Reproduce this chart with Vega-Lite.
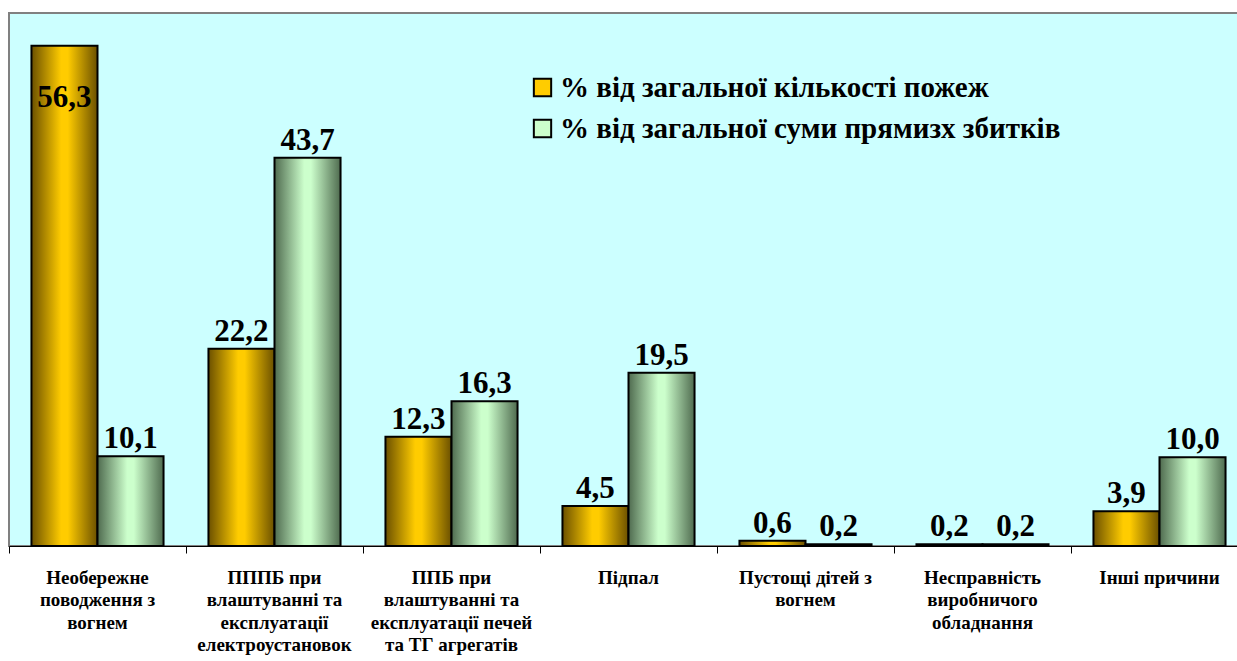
{
  "$schema": "https://vega.github.io/schema/vega-lite/v6.json",
  "autosize": {"type": "none"},
  "padding": {"left": 9, "top": 13, "right": 0, "bottom": 115},
  "width": 1239,
  "height": 533,
  "background": "white",
  "config": {
    "view": {"fill": "#CCFFFF", "stroke": "#808080", "strokeWidth": 2},
    "font": "'Liberation Serif', 'Times New Roman', serif"
  },
  "data": {
    "values": [
      {"category": "Необережне|поводження з|вогнем", "series": "% від загальної кількості пожеж", "value": 56.3},
      {"category": "Необережне|поводження з|вогнем", "series": "% від загальної суми прямизх збитків", "value": 10.1},
      {"category": "ПППБ при|влаштуванні та|експлуатації|електроустановок", "series": "% від загальної кількості пожеж", "value": 22.2},
      {"category": "ПППБ при|влаштуванні та|експлуатації|електроустановок", "series": "% від загальної суми прямизх збитків", "value": 43.7},
      {"category": "ППБ при|влаштуванні та|експлуатації печей|та ТГ агрегатів", "series": "% від загальної кількості пожеж", "value": 12.3},
      {"category": "ППБ при|влаштуванні та|експлуатації печей|та ТГ агрегатів", "series": "% від загальної суми прямизх збитків", "value": 16.3},
      {"category": "Підпал", "series": "% від загальної кількості пожеж", "value": 4.5},
      {"category": "Підпал", "series": "% від загальної суми прямизх збитків", "value": 19.5},
      {"category": "Пустощі дітей з|вогнем", "series": "% від загальної кількості пожеж", "value": 0.6},
      {"category": "Пустощі дітей з|вогнем", "series": "% від загальної суми прямизх збитків", "value": 0.2},
      {"category": "Несправність|виробничого|обладнання", "series": "% від загальної кількості пожеж", "value": 0.2},
      {"category": "Несправність|виробничого|обладнання", "series": "% від загальної суми прямизх збитків", "value": 0.2},
      {"category": "Інші причини", "series": "% від загальної кількості пожеж", "value": 3.9},
      {"category": "Інші причини", "series": "% від загальної суми прямизх збитків", "value": 10.0}
    ]
  },
  "transform": [
    {"calculate": "replace(format(datum.value, '.1f'), '.', ',')", "as": "label"}
  ],
  "encoding": {
    "x": {
      "field": "category", "type": "nominal", "sort": null, "title": null,
      "scale": {"paddingInner": 0, "paddingOuter": 0},
      "axis": {
        "labelAngle": 0, "bandPosition": 0, "domainColor": "black", "domainWidth": 1,
        "tickColor": "black", "tickSize": 7, "labelPadding": 15,
        "labelFont": "'Liberation Serif', 'Times New Roman', serif", "labelFontSize": 19, "labelFontWeight": "bold",
        "labelColor": "black", "labelLimit": 0, "labelLineHeight": 22.5, "labelBaseline": "top",
        "labelExpr": "split(datum.value, '|')"
      }
    },
    "xOffset": {
      "field": "series", "type": "nominal", "sort": null,
      "scale": {"paddingInner": 0, "paddingOuter": 0.34}
    },
    "y": {
      "field": "value", "type": "quantitative", "title": null,
      "scale": {"domain": [0, 60], "nice": false},
      "axis": null
    }
  },
  "layer": [
    {
      "mark": {"type": "bar", "fillOpacity": 0, "strokeOpacity": 0},
      "encoding": {
        "color": {
          "field": "series", "type": "nominal", "sort": null, "title": null,
          "scale": {"range": ["#FFCC00", "#CCFFCC"]},
          "legend": {
            "orient": "none", "legendX": 519, "legendY": 60, "padding": 0,
            "symbolType": "square", "symbolSize": 300, "symbolStrokeColor": "black", "symbolStrokeWidth": 2,
            "symbolOpacity": 1,
            "labelFont": "'Liberation Serif', 'Times New Roman', serif", "labelFontSize": 29, "labelFontWeight": "bold", "labelColor": "black",
            "labelLimit": 0, "rowPadding": 11, "labelOffset": 3,
            "encode": {
              "symbols": {
                "update": {
                  "fill": {"signal": "datum.index == 0 ? {gradient: 'linear', x1: 0, y1: 0, x2: 1, y2: 0, stops: [{offset: 0, color: '#6b5000'}, {offset: 0.5, color: '#FFCC00'}, {offset: 1, color: '#6b5000'}]} : {gradient: 'linear', x1: 0, y1: 0, x2: 1, y2: 0, stops: [{offset: 0, color: '#4f6b4f'}, {offset: 0.5, color: '#CCFFCC'}, {offset: 1, color: '#4f6b4f'}]}"},
                  "stroke": {"value": "black"},
                  "strokeWidth": {"value": 2},
                  "opacity": {"value": 1},
                  "fillOpacity": {"value": 1},
                  "strokeOpacity": {"value": 1}
                }
              },
              "labels": {
                "update": {
                  "font": {"value": "'Liberation Serif', 'Times New Roman', serif"},
                  "fontWeight": {"value": "bold"},
                  "fontSize": {"value": 29}
                }
              }
            }
          }
        }
      }
    },
    {
      "transform": [{"filter": "datum.series == '% від загальної кількості пожеж'"}],
      "mark": {"type": "bar", "stroke": "black", "strokeWidth": 2,
        "fill": {"gradient": "linear", "x1": 0, "y1": 0, "x2": 1, "y2": 0,
          "stops": [{"offset": 0, "color": "#6b5000"}, {"offset": 0.45, "color": "#FFCC00"}, {"offset": 0.55, "color": "#FFCC00"}, {"offset": 1, "color": "#6b5000"}]}}
    },
    {
      "transform": [{"filter": "datum.series == '% від загальної суми прямизх збитків'"}],
      "mark": {"type": "bar", "stroke": "black", "strokeWidth": 2,
        "fill": {"gradient": "linear", "x1": 0, "y1": 0, "x2": 1, "y2": 0,
          "stops": [{"offset": 0, "color": "#4f6b4f"}, {"offset": 0.45, "color": "#CCFFCC"}, {"offset": 0.55, "color": "#CCFFCC"}, {"offset": 1, "color": "#4f6b4f"}]}}
    },
    {
      "transform": [{"filter": "datum.value < 50"}],
      "mark": {"type": "text", "font": "'Liberation Serif', 'Times New Roman', serif", "fontSize": 31, "fontWeight": "bold", "baseline": "alphabetic", "dy": -8, "color": "black"},
      "encoding": {"text": {"field": "label"}}
    },
    {
      "transform": [{"filter": "datum.value >= 50"}],
      "mark": {"type": "text", "font": "'Liberation Serif', 'Times New Roman', serif", "fontSize": 31, "fontWeight": "bold", "baseline": "alphabetic", "dy": 61, "color": "black"},
      "encoding": {"text": {"field": "label"}}
    }
  ]
}
